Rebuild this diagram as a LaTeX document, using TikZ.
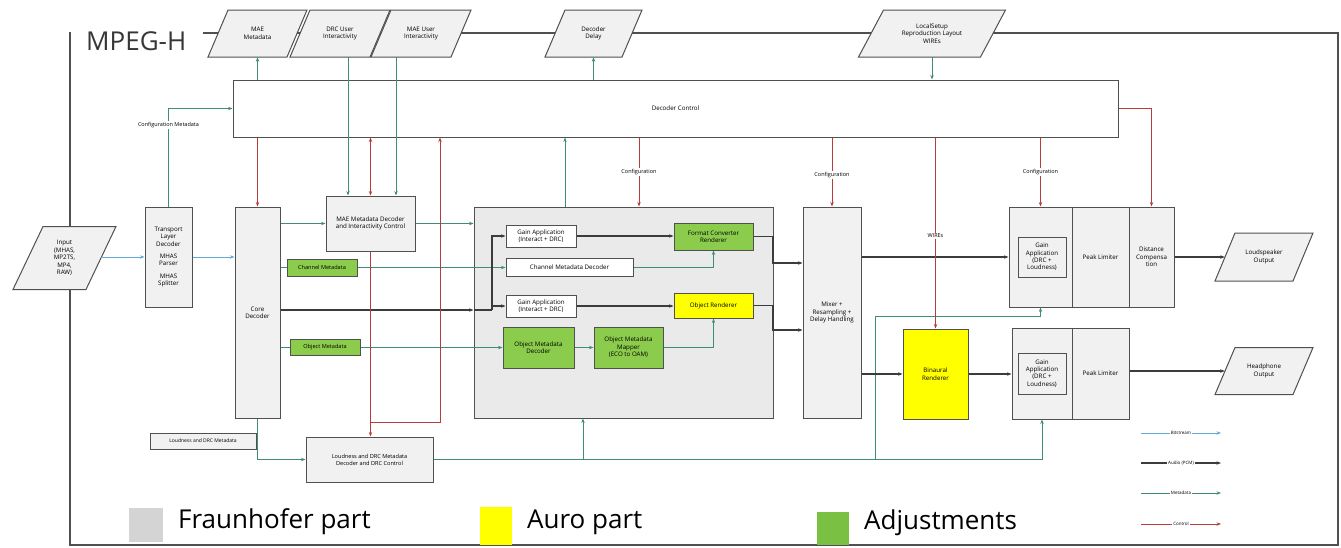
\documentclass[tikz,border=0pt]{standalone}
\usepackage{fontspec}
\setmainfont{Open Sans}
\usetikzlibrary{arrows.meta,calc}
\definecolor{boxgray}{RGB}{241,241,241}
\definecolor{biggray}{RGB}{234,234,234}
\definecolor{edgegray}{RGB}{80,80,80}
\definecolor{adjgreen}{RGB}{140,204,76}
\definecolor{auroyellow}{RGB}{255,255,0}
\definecolor{metateal}{RGB}{62,140,122}
\definecolor{bitblue}{RGB}{95,170,215}
\definecolor{ctrlred}{RGB}{185,60,60}
\definecolor{audiodark}{RGB}{60,60,60}
\definecolor{legendgray}{RGB}{212,212,212}
\definecolor{legendgreen}{RGB}{122,192,66}
\definecolor{titlegray}{RGB}{55,55,55}
\tikzset{
  >={Stealth[length=4.5pt,width=3.4pt]},
  box/.style={draw=edgegray, line width=1pt, fill=boxgray, inner sep=1pt, align=center},
  whitebox/.style={box, fill=white},
  greenbox/.style={box, fill=adjgreen},
  yellowbox/.style={box, fill=auroyellow},
  sz/.style 2 args={minimum width=#1, minimum height=#2},
  ptext/.style={inner sep=0pt, align=center},
  meta/.style={draw=metateal, line width=0.9pt},
  bit/.style={draw=bitblue, line width=1pt},
  audio/.style={draw=audiodark, line width=1.2pt},
  ctrl/.style={draw=ctrlred, line width=0.9pt},
  onlabel/.style={fill=white, inner sep=1pt, font=\fontsize{5.5}{6.5}\selectfont},
  legtext/.style={anchor=base west, inner sep=0pt, font=\fontsize{26}{28}\selectfont, text=black},
}
\newcommand{\paral}[7]{%
  \draw[edgegray, line width=1pt, fill=boxgray]
    ({#2-#4/2-#6/2},{#3+#5/2}) -- ({#2+#4/2-#6/2},{#3+#5/2}) --
    ({#2+#4/2+#6/2},{#3-#5/2}) -- ({#2-#4/2+#6/2},{#3-#5/2}) -- cycle;
  \node[ptext, minimum width=#4, minimum height=#5] (#1) at (#2,#3) {#7};}
\begin{document}
\begin{tikzpicture}[x=1pt, y=-1pt, font=\fontsize{6.2}{7.4}\selectfont]
\useasboundingbox[fill=white] (0,0) rectangle (1341,547);
% frame
\draw[edgegray, line width=1.2pt] (70,32) -- (70,545) -- (1338,545) -- (1338,33) -- (203,33);
\node[anchor=base west, inner sep=0pt, font=\fontsize{26}{28}\selectfont, text=titlegray] (title) at (86,50) {MPEG-H};
% parallelograms
\paral{pmae}{257.5}{33.5}{79}{47}{20}{MAE\\Metadata}
\paral{pdrc}{340}{33.5}{80}{47}{20}{DRC User\\Interactivity}
\paral{pmui}{421}{33.5}{80}{47}{20}{MAE User\\Interactivity}
\paral{pdel}{593.5}{33.5}{77}{47}{20}{Decoder\\Delay}
\paral{ploc}{932}{33.5}{122}{47}{25}{LocalSetup\\Reproduction Layout\\WIREs}
\paral{pin}{64.5}{258}{73}{63}{30}{Input\\(MHAS,\\MP2TS,\\MP4,\\RAW)}
\paral{plsp}{1264}{257}{78}{48}{20}{Loudspeaker\\Output}
\paral{php}{1264}{371}{78}{47}{20}{Headphone\\Output}
% main boxes
\node[whitebox, sz={885}{57}] (dc) at (675.5,108.5) {Decoder Control};
\node[box, sz={47}{100}] (tld) at (168.5,257) {Transport\\Layer\\Decoder\\[5pt]MHAS\\Parser\\[5pt]MHAS\\Splitter};
\node[box, sz={45}{211}] (core) at (257.5,312.5) {Core\\Decoder};
\node[box, sz={89}{55}] (mae) at (370.5,223.5) {MAE Metadata Decoder\\and Interactivity Control};
\node[greenbox, sz={70}{17}, font=\fontsize{5.6}{6.5}\selectfont] (chm) at (322,267.5) {Channel Metadata};
\node[greenbox, sz={70}{16}, font=\fontsize{5.6}{6.5}\selectfont] (obm) at (325,347.5) {Object Metadata};
\node[box, fill=biggray, sz={299}{211}] (big) at (623.5,312.5) {};
\node[whitebox, sz={70}{22}] (ga1) at (541,236) {Gain Application\\(Interact + DRC)};
\node[whitebox, sz={127}{18}] (cmd) at (569.5,267) {Channel Metadata Decoder};
\node[greenbox, sz={79}{27}] (fcr) at (713.5,236.5) {Format Converter\\Renderer};
\node[whitebox, sz={70}{22}] (ga2) at (541,306) {Gain Application\\(Interact + DRC)};
\node[yellowbox, sz={79}{25}] (ore) at (713.5,305.5) {Object Renderer};
\node[greenbox, sz={71}{41}] (omd) at (538.5,347.5) {Object Metadata\\Decoder};
\node[greenbox, sz={69}{41}] (omm) at (628.5,347.5) {Object Metadata\\Mapper\\(ECO to OAM)};
\node[box, sz={58}{211}] (mix) at (832,312.5) {Mixer +\\Resampling +\\Delay Handling};
\node[yellowbox, sz={65}{90}] (bin) at (935.5,374) {Binaural\\Renderer};
\node[box, sz={63}{100}] (spk1) at (1040.5,257) {};
\node[box, sz={57}{100}] (spk2) at (1100.5,257) {Peak Limiter};
\node[box, sz={45}{100}] (spk3) at (1151.5,257) {Distance\\Compensa\\tion};
\node[box, sz={48}{40}] (spkga) at (1042,257) {Gain\\Application\\(DRC +\\Loudness)};
\node[box, sz={60}{91}] (hp1) at (1042,373.5) {};
\node[box, sz={57}{91}] (hp2) at (1100.5,373.5) {Peak Limiter};
\node[box, sz={48}{41}] (hpga) at (1042,373.5) {Gain\\Application\\(DRC +\\Loudness)};
\node[box, sz={106}{16}, font=\fontsize{5}{6}\selectfont] (ldm) at (203,441) {Loudness and DRC Metadata};
\node[box, sz={127}{45}, font=\fontsize{5.6}{6.8}\selectfont] (ldd) at (369.5,459.5) {Loudness and DRC Metadata\\Decoder and DRC Control};
% helper coordinates
\coordinate (xdrc) at (348,0);
\coordinate (xmui) at (396,0);
\coordinate (xup) at (565,0);
\coordinate (xcfg1) at (639,0);
\coordinate (a1) at (492,310);
\coordinate (m1) at (773,263);
\coordinate (m2) at (773,330);
\coordinate (r1) at (440,422);
\coordinate (xb1) at (583,0);
\coordinate (c875) at (875,316);
\coordinate (xwire) at (935.5,0);
% bitstream
\draw[bit,->] (pin.east |- tld.west) -- (tld.west);
\draw[bit,->] (tld.east) -- (core.west |- tld.east);
% metadata
\draw[meta,->] (tld.north) |- (dc.west);
\draw[meta,->] (dc.north -| pmae.south) -- (pmae.south);
\draw[meta,->] (pdrc.south -| xdrc) -- (mae.north -| xdrc);
\draw[meta,->] (pmui.south -| xmui) -- (mae.north -| xmui);
\draw[meta,->] (dc.north -| pdel.south) -- (pdel.south);
\draw[meta,->] (ploc.south) -- (dc.north -| ploc.south);
\draw[meta,->] (core.east |- mae.west) -- (mae.west);
\draw[meta,->] (mae.east) -- (big.west |- mae.east);
\draw[meta] (core.east |- chm.west) -- (chm.west);
\draw[meta,->] (chm.east) -- (cmd.west |- chm.east);
\draw[meta] (core.east |- obm.west) -- (obm.west);
\draw[meta,->] (obm.east) -- (omd.west |- obm.east);
\draw[meta,->] (omd.east) -- (omm.west);
\draw[meta,->] (omm.east) -| (ore.south);
\draw[meta,->] (cmd.east) -| (fcr.south);
\draw[meta,->] (big.north -| xup) -- (dc.south -| xup);
\draw[meta,->] (core.south) |- (ldd.west);
\draw[meta,->] (ldd.east) -| (hp1.south);
\draw[meta,->] (ldd.east -| xb1) -- (big.south -| xb1);
\draw[meta,->] (ldd.east -| c875) -- (c875) -| (spk1.south);
% audio
\draw[audio,->] (core.east |- a1) -- (big.west |- a1);
\draw[audio] (big.west |- a1) -- (a1);
\draw[audio,->] (a1) |- (ga1.west);
\draw[audio,->] (a1 |- ga2.west) -- (ga2.west);
\draw[audio,->] (ga1.east) -- (fcr.west |- ga1.east);
\draw[audio,->] (ga2.east) -- (ore.west |- ga2.east);
\draw[audio,->] (fcr.east) -| (m1) -- (mix.west |- m1);
\draw[audio,->] (ore.east) -| (m2) -- (mix.west |- m2);
\draw[audio,->] (mix.east |- spk1.west) -- (spk1.west);
\draw[audio,->] (mix.east |- bin.west) -- (bin.west);
\draw[audio,->] (bin.east) -- (hp1.west |- bin.east);
\draw[audio,->] (spk3.east) -- (plsp.west);
\draw[audio,->] (hp2.east |- php.west) -- (php.west);
% control
\draw[ctrl,->] (dc.south -| core.north) -- (core.north);
\draw[ctrl,<->] (dc.south -| mae.north) -- (mae.north);
\draw[ctrl,->] (mae.south) -- (ldd.north -| mae.south);
\draw[ctrl,->] (mae.south |- r1) -- (r1) -- (dc.south -| r1);
\draw[ctrl,->] (dc.south -| xcfg1) -- (big.north -| xcfg1);
\draw[ctrl,->] (dc.south -| mix.north) -- (mix.north);
\draw[ctrl,->] (dc.south -| xwire) -- (bin.north);
\draw[ctrl,->] (dc.south -| spk1.north) -- (spk1.north);
\draw[ctrl,->] (dc.east) -| (spk3.north);
% labels on lines
\node[onlabel] (lcm) at (168.5,125) {Configuration Metadata};
\node[onlabel] (lc1) at (639,172) {Configuration};
\node[onlabel] (lc2) at (832,175) {Configuration};
\node[onlabel] (lc3) at (1040.5,172) {Configuration};
\node[onlabel] (lw) at (935.5,236) {WIREs};
% legend lines
\coordinate (g1a) at (1141,433); \coordinate (g1b) at (1221,433);
\coordinate (g2a) at (1141,463); \coordinate (g2b) at (1221,463);
\coordinate (g3a) at (1141,493); \coordinate (g3b) at (1221,493);
\coordinate (g4a) at (1141,524); \coordinate (g4b) at (1221,524);
\draw[bit,->] (g1a) -- node[onlabel, font=\fontsize{4.5}{5}\selectfont] (lb1) {Bitstream} (g1b);
\draw[audio,->] (g2a) -- node[onlabel, font=\fontsize{4.5}{5}\selectfont] (lb2) {Audio (PCM)} (g2b);
\draw[meta,->] (g3a) -- node[onlabel, font=\fontsize{4.5}{5}\selectfont] (lb3) {Metadata} (g3b);
\draw[ctrl,->] (g4a) -- node[onlabel, font=\fontsize{4.5}{5}\selectfont] (lb4) {Control} (g4b);
% legend squares
\node[fill=legendgray, inner sep=0pt, sz={34}{34}] (sqf) at (146,525) {};
\node[legtext] (tf) at (178,528) {Fraunhofer part};
\node[fill=auroyellow, inner sep=0pt, sz={32}{38}] (sqa) at (496,526) {};
\node[legtext] (ta) at (527,528) {Auro part};
\node[fill=legendgreen, inner sep=0pt, sz={32}{33}] (sqg) at (833,528.5) {};
\node[legtext] (tg) at (864,529) {Adjustments};
\end{tikzpicture}
\end{document}
